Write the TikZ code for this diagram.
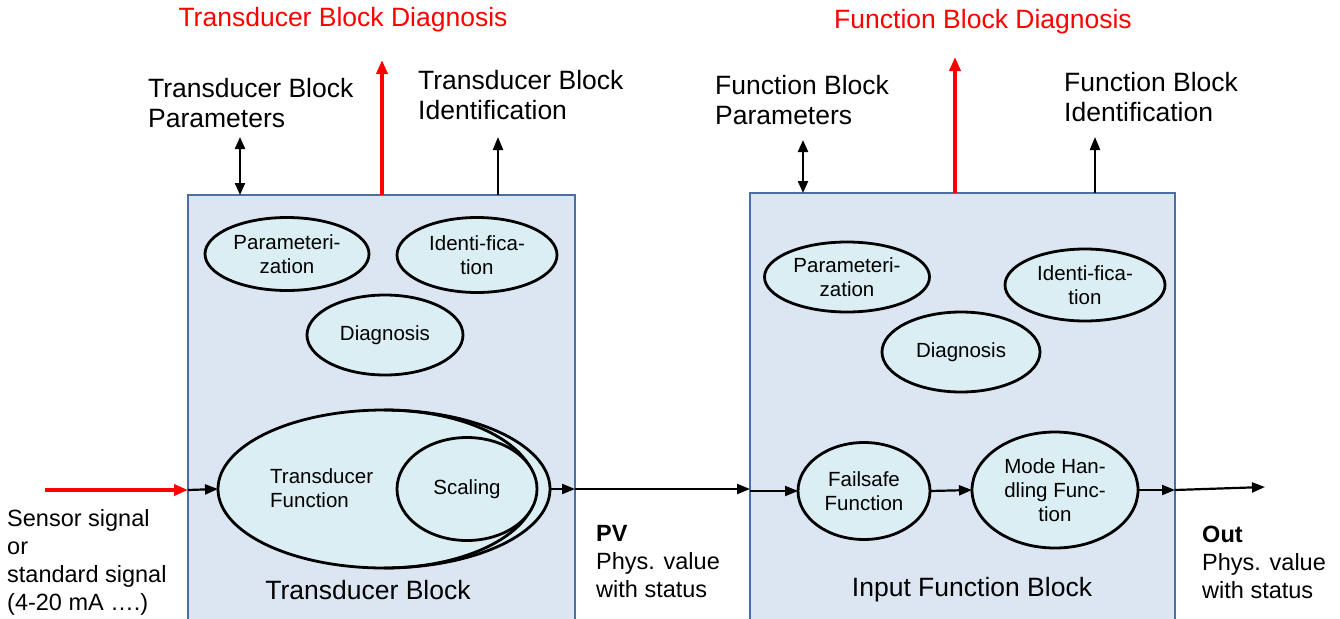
\documentclass[tikz,border=0pt]{standalone}
\usepackage{fontspec}
\setmainfont{Liberation Sans}
\usetikzlibrary{shapes.geometric,arrows.meta}
\definecolor{boxfill}{HTML}{DCE6F2}
\definecolor{boxline}{HTML}{4A6FA0}
\definecolor{ellfill}{HTML}{DAEEF3}
\definecolor{sigred}{HTML}{FF0000}
\begin{document}
\begin{tikzpicture}[x=1pt,y=-1pt,
 blk/.style={draw=boxline,line width=1.6pt,fill=boxfill,inner sep=0pt,outer sep=0pt,anchor=north west},
 ell/.style={ellipse,draw=black,line width=2.8pt,fill=ellfill,inner sep=0pt,outer sep=0pt,align=center,font=\fontsize{20.5}{24}\selectfont},
 big/.style={inner sep=0pt,font=\fontsize{26.5}{30}\selectfont},
 mid/.style={inner sep=0pt,align=left,anchor=west,font=\fontsize{23.5}{28}\selectfont},
 arr/.style={line width=2.2pt,-{Triangle[length=13pt,width=10pt]}},
 darr/.style={line width=2.2pt,{Triangle[length=12pt,width=10pt]}-{Triangle[length=12pt,width=10pt]}},
 rarr/.style={draw=sigred,line width=3.6pt,-{Triangle[length=14pt,width=11pt]}},
]
\useasboundingbox (0,0) rectangle (1340,618);
\fill[white] (0,0) rectangle (1340,618);
% blocks
\node[blk,minimum width=387pt,minimum height=445pt] (tb) at (188,195) {};
\node[blk,minimum width=425pt,minimum height=445pt] (fb) at (750,193) {};
% transducer block contents
\node[ell,minimum width=164pt,minimum height=73pt] (tp) at (287,254) {Parameteri-\\zation};
\node[ell,minimum width=160pt,minimum height=75pt] (ti) at (477,255) {Identi-fica-\\tion};
\node[ell,minimum width=156pt,minimum height=80pt] (td) at (385,335) {Diagnosis};
\node[ell,minimum width=332pt,minimum height=158pt] (tf) at (384,489) {};
\draw[line width=2.8pt] (tf.center) ++(-90:152 and 79) arc[start angle=-90,end angle=90,x radius=152,y radius=79];
\node[inner sep=0pt,align=left,anchor=west,font=\fontsize{20.5}{24}\selectfont] (tft) at (270,488) {Transducer\\Function};
\node[ell,minimum width=140pt,minimum height=103pt] (sc) at (467,489) {Scaling};
% function block contents
\node[ell,minimum width=165pt,minimum height=70pt] (fp) at (847,277) {Parameteri-\\zation};
\node[ell,minimum width=160pt,minimum height=72pt] (fi) at (1085,285) {Identi-fica-\\tion};
\node[ell,minimum width=158pt,minimum height=80pt] (fd) at (961,352) {Diagnosis};
\node[ell,minimum width=132pt,minimum height=97pt] (fs) at (864,491) {Failsafe\\Function};
\node[ell,minimum width=166pt,minimum height=116pt] (mh) at (1055,490) {Mode Han-\\dling Func-\\tion};
% signal path
\coordinate (sin) at (45,490);
\coordinate (outp) at (1265,487);
\draw[rarr] (sin) -- (sin -| tb.west);
\draw[arr] (sin -| tb.west) -- (tf.west);
\draw[arr] (tf.east) -- (tf.east -| tb.east);
\draw[arr] (tf.east -| tb.east) -- (tf.east -| fb.west);
\draw[arr] (fs.west -| fb.west) -- (fs.west);
\draw[arr] (fs.east) -- (mh.west);
\draw[arr] (mh.east) -- (mh.east -| fb.east);
\draw[arr] (mh.east -| fb.east) -- (outp);
% top connectors
\coordinate (tpa) at (240,137);
\coordinate (tda) at (382,60);
\coordinate (tia) at (498,137);
\coordinate (fpa) at (803,140);
\coordinate (fda) at (955,57);
\coordinate (fia) at (1095,137);
\draw[darr] (tpa) -- (tpa |- tb.north);
\draw[rarr] (tda |- tb.north) -- (tda);
\draw[arr] (tia |- tb.north) -- (tia);
\draw[darr] (fpa) -- (fpa |- fb.north);
\draw[rarr] (fda |- fb.north) -- (fda);
\draw[arr] (fia |- fb.north) -- (fia);
% labels
\node[big,text=sigred] (tdl) at (343,20) {Transducer Block Diagnosis};
\node[big,align=left,anchor=west] (tpl) at (148,103) {Transducer Block\\Parameters};
\node[big,align=left,anchor=west] (til) at (418,95) {Transducer Block\\Identification};
\node[big,text=sigred] (fdl) at (983,22) {Function Block Diagnosis};
\node[big,align=left,anchor=west] (fpl) at (715,100) {Function Block\\Parameters};
\node[big,align=left,anchor=west] (fil) at (1064,97) {Function Block\\Identification};
\node[big] (tbl) at (368,590) {Transducer Block};
\node[big] (fbl) at (972,590) {Input Function Block};
\node[mid] (sig) at (7,562) {Sensor signal\\or\\standard signal\\(4-20 mA ….)};
\node[mid] (pv) at (596,562) {\textbf{PV}\\Phys. value\\with status};
\node[mid] (out) at (1202,562) {\textbf{Out}\\Phys. value\\with status};
\end{tikzpicture}
\end{document}
